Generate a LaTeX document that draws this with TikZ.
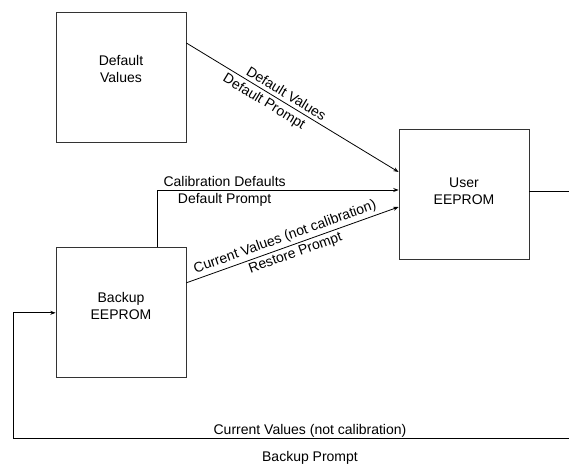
\documentclass[tikz,border=0pt]{standalone}
\usepackage{fontspec}
\setmainfont{Liberation Sans}
\usetikzlibrary{arrows.meta, positioning, calc}

\begin{document}
\begin{tikzpicture}[
        x=0.75pt, y=-0.75pt,
        node distance=78.75pt,
        box/.style={draw=black!80, line width=0.6pt, minimum width=97.5pt, minimum height=97.5pt,
                    inner sep=0pt},
        boxtext/.style={font=\fontsize{10.5}{12.5}\selectfont, align=center},
        arrow/.style={-{Stealth[length=4pt, width=3pt]}, line width=0.6pt},
        lbl/.style={font=\fontsize{10.5}{12.5}\selectfont, inner sep=2pt}
      ]
        \useasboundingbox (0,0) rectangle (569,465);
        \clip (0,0) rectangle (569,465);
        \node[box, label={[boxtext, yshift=6pt]center:Default\\Values}] (defaults) at (121,77) {};
        \node[box, below=of defaults, label={[boxtext, yshift=5pt]center:Backup\\EEPROM}] (backup) {};
        \node[box, label={[boxtext, yshift=2pt]center:User\\EEPROM}] (user) at (464,194) {};
        \coordinate (loopR) at (607,438);
        \coordinate (loopL) at (13,438);
        \draw[arrow] ($(defaults.east)+(0,-34)$) --
              node[lbl, above, sloped, pos=0.45, inner sep=2.5pt]{Default Values}
              node[lbl, below, sloped, pos=0.39, inner sep=2.5pt]{Default Prompt} ($(user.west)+(0,-22)$);
        \draw[arrow] ($(backup.north)+(36,0)$) |-
              node[lbl, above, pos=0.64]{Calibration Defaults}
              node[lbl, below, pos=0.64]{Default Prompt} ($(user.west)+(0,-4)$);
        \draw[arrow] ($(backup.east)+(0,-30)$) --
              node[lbl, above, sloped, pos=0.48]{Current Values (not calibration)}
              node[lbl, below, sloped, pos=0.5]{Restore Prompt} ($(user.west)+(0,13)$);
        \draw[arrow] ($(user.east)+(0,-3)$) -| (loopR) --
              node[lbl, above, inner sep=0.5pt]{Current Values (not calibration)}
              node[lbl, below=8pt]{Backup Prompt} (loopL) |- (backup.west);
      \end{tikzpicture}
\end{document}
